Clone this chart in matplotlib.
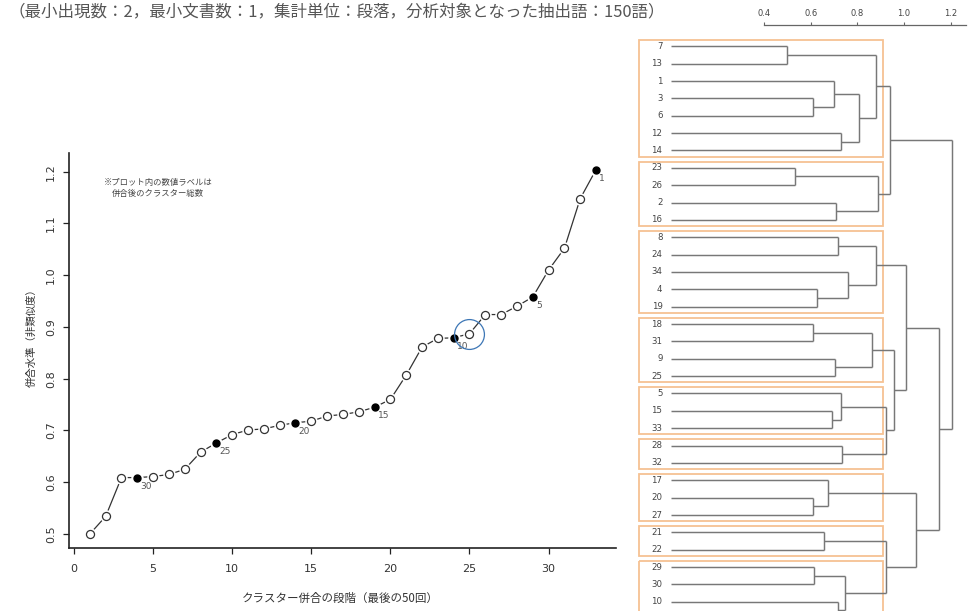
import matplotlib
matplotlib.use("Agg")
import matplotlib.pyplot as plt
from matplotlib.patches import Rectangle

W, H = 975, 611
CJK = ['Noto Sans CJK JP', 'DejaVu Sans']

# ---------------- text ----------------
title_text = "（最小出現数：2，最小文書数：1，集計単位：段落，分析対象となった抽出語：150語）"
x_label = "クラスター併合の段階（最後の50回）"
y_label = "併合水準（非類似度）"
note_text = "※プロット内の数値ラベルは\n併合後のクラスター総数"

# ---------------- data: merge levels ----------------
steps = list(range(1, 34))
merge_levels = [0.500, 0.534, 0.609, 0.609, 0.611, 0.615, 0.625, 0.658, 0.676, 0.692,
                0.701, 0.703, 0.710, 0.715, 0.718, 0.728, 0.731, 0.736, 0.745, 0.760,
                0.807, 0.861, 0.878, 0.879, 0.887, 0.924, 0.924, 0.940, 0.958, 1.010,
                1.052, 1.148, 1.204]
label_steps = [4, 9, 14, 19, 24, 29, 33]
cluster_labels = ["30", "25", "20", "15", "10", "5", "1"]
highlight_step = 25
x_ticks = [0, 5, 10, 15, 20, 25, 30]
y_ticks = [0.5, 0.6, 0.7, 0.8, 0.9, 1.0, 1.1, 1.2]

# ---------------- data: dendrogram (hclust-style merge matrix) ----------------
leaf_order = [7, 13, 1, 3, 6, 12, 14, 23, 26, 2, 16, 8, 24, 34, 4, 19, 18, 31, 9, 25,
              5, 15, 33, 28, 32, 17, 20, 27, 21, 22, 29, 30, 10, 11]
merge_a = [-7, -23, -3, -18, -20, -29, -4, -21, -17, -15, -1, -9, -2, -8, -10, -12, -5,
           -28, 6, -34, 11, 4, 14, 1, 2, 17, 8, 24, 22, 23, 9, 30, 28]
merge_b = [-13, -26, -6, -31, -27, -30, -19, -22, 5, -33, 3, -25, -16, -24, -11, -14, 10,
           -32, 15, 7, 16, 12, 20, 21, 13, 18, 19, 25, 26, 29, 27, 31, 32]
n_clusters_boxed = 9
dendro_ticks = [0.4, 0.6, 0.8, 1.0, 1.2]
dendro_tick_labels = ["0.4", "0.6", "0.8", "1.0", "1.2"]

fig = plt.figure(figsize=(W / 100, H / 100), dpi=100)
fig.patch.set_facecolor('white')


def rect(l, t, r, b):
    return [l / W, 1 - b / H, (r - l) / W, (b - t) / H]


# ---------------- left: merge level plot ----------------
ax = fig.add_axes(rect(69, 153, 616, 548))
xpx, x0 = 15.82, 74
ax.set_xlim((69 - x0) / xpx, (616 - x0) / xpx)
ax.set_ylim(0.5 - (548 - 534) / 518, 1.2 + (171.7 - 153) / 518)

ax.plot(steps, merge_levels, '-', color='#333333', lw=0.9, zorder=1)
ax.plot(steps, merge_levels, 'o', ms=9, mfc='white', mec='none', zorder=2)
open_x = [s for s in steps if s not in label_steps]
open_y = [merge_levels[s - 1] for s in open_x]
fill_y = [merge_levels[s - 1] for s in label_steps]
ax.plot(open_x, open_y, 'o', ms=5.8, mfc='white', mec='#333333', mew=0.9, zorder=3)
ax.plot(label_steps, fill_y, 'o', ms=5.0, color='black', zorder=3)
for s, v, lab in zip(label_steps, fill_y, cluster_labels):
    ax.annotate(lab, (s, v), xytext=(2.2, -6.3), textcoords='offset points',
                ha='left', va='center', fontsize=6.5, color='#555555',
                family='DejaVu Sans', zorder=5)
ax.plot([highlight_step], [merge_levels[highlight_step - 1]], 'o', ms=21.5,
        mfc='none', mec='#3c76b5', mew=0.9, zorder=6)

for sp in ['top', 'right']:
    ax.spines[sp].set_visible(False)
for sp in ['left', 'bottom']:
    ax.spines[sp].set_linewidth(1.2)
    ax.spines[sp].set_color('#222222')
ax.set_xticks(x_ticks)
ax.set_xticklabels([str(t) for t in x_ticks], family='DejaVu Sans')
ax.set_yticks(y_ticks)
ax.set_yticklabels([f"{t:.1f}" for t in y_ticks], rotation=90, va='center',
                   family='DejaVu Sans')
ax.tick_params(axis='both', length=4.5, width=0.9, color='#222222',
               labelsize=8, labelcolor='#333333')
ax.tick_params(axis='x', pad=7)
ax.tick_params(axis='y', pad=5)

# ---------------- right: dendrogram ----------------
ax2 = fig.add_axes(rect(600, 24.5, 975, 611))
ax2.patch.set_visible(False)
hpx, h0 = 233.5, 670.6
lpx, l0 = 17.36, 46.3
ylim_bottom = (611 - l0) / lpx
ax2.set_xlim((600 - h0) / hpx, (975 - h0) / hpx)
ax2.set_ylim(ylim_bottom, (24.5 - l0) / lpx)

leaf_pos = {leaf: i for i, leaf in enumerate(leaf_order)}
node_y, node_h, members = {}, {}, {}
line_kw = dict(color='#777777', lw=1.05, solid_capstyle='butt')


def info(c):
    if c < 0:
        return leaf_pos[-c], 0.0, {-c}
    return node_y[c], node_h[c], members[c]


for k, (a, b) in enumerate(zip(merge_a, merge_b), start=1):
    ya, ha, ma = info(a)
    yb, hb, mb = info(b)
    h = merge_levels[k - 1]
    ax2.plot([ha, h], [ya, ya], **line_kw)
    ax2.plot([hb, h], [yb, yb], **line_kw)
    ax2.plot([h, h], [ya, yb], **line_kw)
    node_y[k] = (ya + yb) / 2
    node_h[k] = h
    members[k] = ma | mb

for leaf, i in leaf_pos.items():
    if i + 0.3 > ylim_bottom:
        continue  # label lies below the visible frame
    ax2.text(-0.035, i, str(leaf), ha='right', va='center', fontsize=6.2,
             color='#444444', family='DejaVu Sans')

# clusters remaining after cutting into n_clusters_boxed groups
cut_step = len(leaf_order) - n_clusters_boxed
used = set()
for k in range(1, cut_step + 1):
    used.update([merge_a[k - 1], merge_b[k - 1]])
groups = [members[k] for k in range(1, cut_step + 1) if k not in used]
for leaf in leaf_order:
    if -leaf not in used and all(leaf not in g for g in groups):
        groups.append({leaf})
for g in groups:
    idx = [leaf_pos[l] for l in g]
    top, bot = min(idx) - 0.36, max(idx) + 0.36
    ax2.add_patch(Rectangle((-0.135, top), 0.908 + 0.135, bot - top, fill=False,
                            ec='#f6c293', lw=1.3, zorder=0))

for sp in ['bottom', 'left', 'right']:
    ax2.spines[sp].set_visible(False)
ax2.spines['top'].set_bounds(0.4, 1.265)
ax2.spines['top'].set_color('#666666')
ax2.spines['top'].set_linewidth(0.9)
ax2.xaxis.tick_top()
ax2.set_xticks(dendro_ticks)
ax2.set_xticklabels(dendro_tick_labels, family='DejaVu Sans')
ax2.tick_params(axis='x', direction='out', length=2.5, width=0.8, color='#666666',
                labelsize=6, labelcolor='#444444', pad=2.5)
ax2.set_yticks([])

# ---------------- texts ----------------
fig.text(8 / W, 1 - 12 / H, title_text, fontsize=11.9, color='#555555',
         ha='left', va='center', family=CJK)
fig.text(158 / W, 1 - 188 / H, note_text, fontsize=6, color='#444444',
         ha='center', va='center', multialignment='center', linespacing=1.15,
         family=CJK)
fig.text(340 / W, 1 - 598 / H, x_label, fontsize=8.3, color='#333333',
         ha='center', va='center', family=CJK)
fig.text(32 / W, 1 - 335 / H, y_label, fontsize=7.5, color='#333333',
         ha='center', va='center', rotation=90, family=CJK)

fig.savefig("out.png", dpi=100, facecolor='white')
